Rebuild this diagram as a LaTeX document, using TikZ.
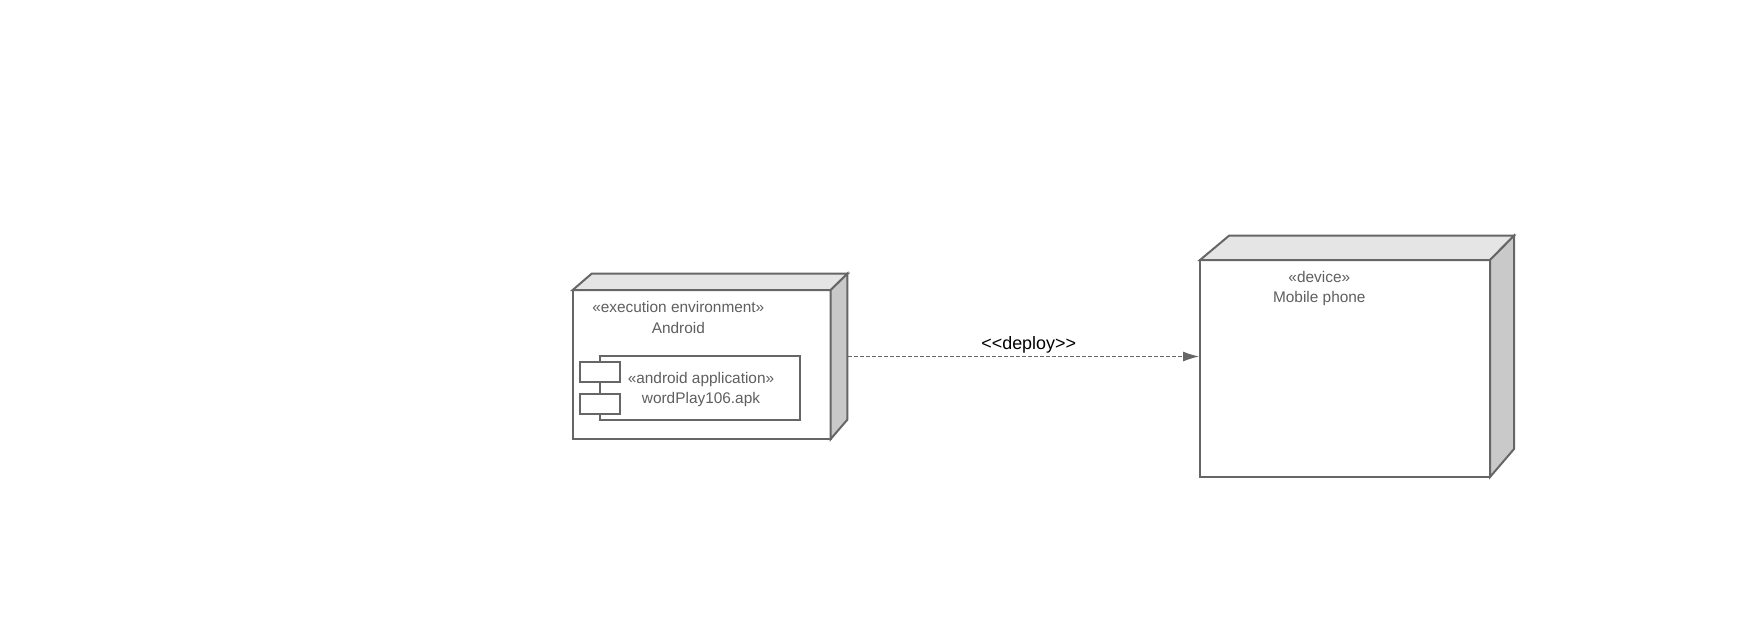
\documentclass[tikz,border=0pt]{standalone}
\usepackage{fontspec}
\setmainfont{Liberation Sans}
\usetikzlibrary{arrows.meta}
\definecolor{umlgrey}{HTML}{666666}
\definecolor{umltext}{HTML}{5F5F5F}
\definecolor{umltop}{HTML}{E5E5E5}
\definecolor{umlside}{HTML}{C9C9C9}
\tikzset{
	frontface/.style={draw=umlgrey,line width=2pt,fill=white,anchor=north west,inner sep=0pt,outer sep=0pt},
	topface/.style={draw=umlgrey,line width=2pt,fill=umltop,line join=miter},
	sideface/.style={draw=umlgrey,line width=2pt,fill=umlside,line join=miter},
	umllabel/.style={text=umltext,font=\fontsize{15.4}{20.5}\selectfont,align=center,inner sep=0pt},
	portbox/.style={frontface,minimum width=40pt,minimum height=20pt},
	deployline/.style={draw=umlgrey,line width=1pt,dash pattern=on 4pt off 2pt,-{Latex[length=16pt,width=10pt]}}
}
\begin{document}
\begin{tikzpicture}[x=1pt,y=-1pt]

	\useasboundingbox (0,0) rectangle (1760,630);

	\pgfmathsetmacro{\envx}{572.7}
	\pgfmathsetmacro{\envy}{290}
	\pgfmathsetmacro{\phonex}{1200}
	\pgfmathsetmacro{\phoney}{260}

	% execution environment
	\node[frontface,minimum width=258pt,minimum height=149pt] (env) at (\envx,\envy) {};
	\filldraw[topface] (env.north west) -- ++(19,-16.4) -- ++(256,0) -- (env.north east) -- cycle;
	\filldraw[sideface] (env.north east) -- ++(16.7,-16.4) -- ++(0,146) -- (env.south east) -- cycle;
	\node[umllabel] (envlabel) at (678.3,317.5) {«execution environment»\\Android};

	% component with its two ports
	\node[frontface,minimum width=200pt,minimum height=64pt] (comp) at (600,356.2) {};
	\node[portbox] (portone) at (580.3,362) {};
	\node[portbox] (porttwo) at (580.3,394) {};
	\node[umllabel] (complabel) at (701,389.5) {«android application»\\wordPlay106.apk};

	% device
	\node[frontface,minimum width=290pt,minimum height=217pt] (phone) at (\phonex,\phoney) {};
	\filldraw[topface] (phone.north west) -- ++(29,-24.3) -- ++(285,0) -- (phone.north east) -- cycle;
	\filldraw[sideface] (phone.north east) -- ++(24,-24.3) -- ++(0,213.3) -- (phone.south east) -- cycle;
	\node[umllabel] (phonelabel) at (1319.3,288.3) {«device»\\Mobile phone};

	% deployment
	\coordinate (deployfrom) at (848,356.5);
	\coordinate (deployto) at (1199,356.5);
	\draw[deployline] (deployfrom) -- (deployto);
	\node[font=\fontsize{17.9}{20}\selectfont,inner sep=0pt] (deploylabel) at (1028.7,345.3) {<{}<deploy>{}>};

\end{tikzpicture}
\end{document}
